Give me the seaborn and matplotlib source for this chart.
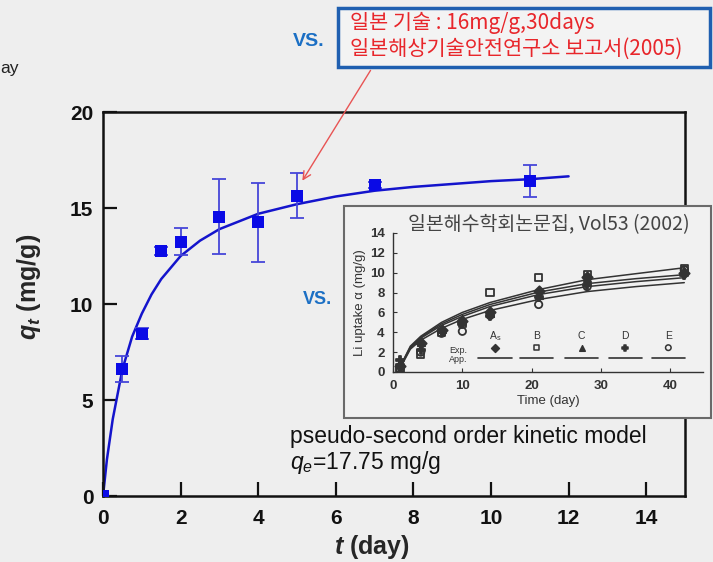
import numpy as np
import pandas as pd
import matplotlib
matplotlib.use("Agg")
import matplotlib.pyplot as plt
from matplotlib.patches import Rectangle
import seaborn as sns

# main data: q_t vs t (day)
t_day = [0, 0.5, 1, 1.5, 2, 3, 4, 5, 7, 11]
qt = [0.0, 6.6, 8.45, 12.75, 13.25, 14.55, 14.25, 15.65, 16.2, 16.4]
qt_err = [0.0, 0.67, 0.28, 0.2, 0.72, 1.95, 2.05, 1.15, 0.15, 0.85]

# pseudo-second order model curve
fit_t = [0, 0.1, 0.25, 0.5, 0.75, 1, 1.25, 1.5, 2, 2.5, 3, 4, 5, 6, 7, 8, 9, 10, 11, 12]
fit_q = [0, 1.9, 4.0, 6.6, 8.3, 9.5, 10.5, 11.3, 12.5, 13.3, 13.9, 14.7, 15.2, 15.6,
         15.9, 16.1, 16.25, 16.4, 16.5, 16.65]

# inset (scanned paper figure): Li uptake vs time
ins_t = [1, 4, 7, 10, 14, 21, 28, 42]
ins_series = {
    "A": [0.6, 2.9, 4.2, 5.1, 6.0, 8.2, 9.6, 10.0],
    "B": [0.4, 1.8, 4.0, 4.9, 8.0, 9.5, 9.8, 10.4],
    "C": [0.8, 3.0, 4.3, 5.3, 5.9, 7.8, 9.5, 10.2],
    "D": [1.2, 2.2, 4.1, 4.8, 5.6, 7.6, 8.8, 9.8],
    "E": [0.3, 2.0, 3.9, 4.1, 5.7, 6.8, 8.6, 10.3],
}
ins_curve_t = [0.8, 1.5, 2.5, 4, 7, 10, 14, 21, 28, 35, 42]
ins_curves = [
    [0, 1.2, 2.6, 3.6, 5.0, 6.0, 7.0, 8.3, 9.3, 9.9, 10.5],
    [0, 1.15, 2.5, 3.5, 4.85, 5.8, 6.8, 8.05, 8.9, 9.4, 9.8],
    [0, 1.1, 2.4, 3.4, 4.7, 5.6, 6.6, 7.8, 8.6, 9.1, 9.5],
    [0, 1.0, 2.3, 3.2, 4.4, 5.3, 6.2, 7.3, 8.1, 8.6, 9.0],
]
leg_labels = [r"A$_{\rm s}$", "B", "C", "D", "E"]
leg_markers = ["D", "s", "^", "P", "o"]

sns.set_theme(style="ticks")
plt.rcParams['font.family'] = ['Liberation Sans', 'Noto Sans CJK KR', 'DejaVu Sans']
plt.rcParams['mathtext.fontset'] = 'custom'
plt.rcParams['mathtext.rm'] = 'Liberation Sans'
plt.rcParams['mathtext.it'] = 'Liberation Sans:italic'
plt.rcParams['mathtext.bf'] = 'Liberation Sans:bold'
plt.rcParams['mathtext.bfit'] = 'Liberation Sans:italic:bold'

bg = '#eeeeee'
fig = plt.figure(figsize=(7.13, 5.62), dpi=100, facecolor=bg)
ax = fig.add_axes([0.1445, 0.1174, 0.8162, 0.6833])
ax.set_facecolor(bg)

df = pd.DataFrame({"t": t_day, "q": qt, "err": qt_err})
fit = pd.DataFrame({"t": fit_t, "q": fit_q})

sns.lineplot(data=fit, x="t", y="q", ax=ax, color='#1414cc', lw=1.8,
             sort=False, estimator=None)
ax.errorbar(df["t"], df["q"], yerr=df["err"], fmt='none', ecolor='#4646d8',
            elinewidth=1.3, capsize=5, capthick=1.3)
sns.scatterplot(data=df, x="t", y="q", ax=ax, marker='s', s=75, color='#0a0ae6',
                edgecolor='#0a0ae6', linewidth=0, zorder=5)

ax.set_xlim(0, 15)
ax.set_ylim(0, 20)
ax.set_xticks(range(0, 15, 2))
ax.set_yticks(range(0, 21, 5))
ax.tick_params(direction='in', length=10, width=1.6, labelsize=15, colors='#111111')
ax.tick_params(axis='x', pad=9)
ax.tick_params(axis='y', pad=7)
for lab in ax.get_xticklabels() + ax.get_yticklabels():
    lab.set_fontweight('bold')
for sp in ax.spines.values():
    sp.set_linewidth(1.8)
    sp.set_color('#111111')

ax.set_xlabel(r"$\mathbfit{t}$ (day)", fontsize=18, fontweight='bold')
ax.set_ylabel(r"$\mathbfit{q_t}$ (mg/g)", fontsize=18, fontweight='bold')
ax.xaxis.set_label_coords(0.462, -0.097)
ax.yaxis.set_label_coords(-0.103, 0.544)

# model text
fig.text(290 / 713, 1 - 437 / 562, "pseudo-second order kinetic model", fontsize=16.5,
         color='#111111', va='center', ha='left')
fig.text(290 / 713, 1 - 463 / 562, r"$q_e$=17.75 mg/g", fontsize=16.5,
         color='#111111', va='center', ha='left')

# inset box
fig.patches.append(Rectangle((344 / 713, 1 - 418 / 562), 367 / 713, 212 / 562,
                             transform=fig.transFigure, facecolor='#f1f1f1',
                             edgecolor='#6a6a6a', lw=1.5, zorder=1))
ins = fig.add_axes([393 / 713, 1 - 372 / 562, 310 / 713, 139 / 562], zorder=3)
ins.set_facecolor('none')
gray = '#333333'
for c in ins_curves:
    sns.lineplot(x=ins_curve_t, y=c, ax=ins, color=gray, lw=1.1, sort=False, estimator=None)
for (name, vals), mk in zip(ins_series.items(), leg_markers):
    filled = mk in ("D", "^", "P")
    ins.scatter(ins_t, vals, marker=mk, s=28, facecolors=gray if filled else 'none',
                edgecolors=gray, linewidths=1.3, zorder=4)
# inset legend
leg_x = [14.7, 20.7, 27.2, 33.5, 39.7]
for x, lab, mk in zip(leg_x, leg_labels, leg_markers):
    filled = mk in ("D", "^", "P")
    ins.text(x, 3.6, lab, fontsize=7.5, color=gray, ha='center', va='center')
    ins.scatter([x], [2.45], marker=mk, s=16, facecolors=gray if filled else 'none',
                edgecolors=gray, linewidths=1.1)
    ins.plot([x - 2.4, x + 2.4], [1.45, 1.45], color=gray, lw=1.2)
ins.text(9.4, 2.2, "Exp.", fontsize=6.5, color=gray, ha='center', va='center')
ins.text(9.4, 1.3, "App.", fontsize=6.5, color=gray, ha='center', va='center')

ins.set_xlim(0, 44.7)
ins.set_ylim(0, 14)
ins.set_xticks([0, 10, 20, 30, 40])
ins.set_yticks(range(0, 15, 2))
ins.tick_params(direction='in', length=3, width=0.8, labelsize=9.5, colors=gray, pad=6)
for lab in ins.get_xticklabels() + ins.get_yticklabels():
    lab.set_fontweight('bold')
ins.spines[['top', 'right']].set_visible(False)
for s in ('left', 'bottom'):
    ins.spines[s].set_linewidth(1.0)
    ins.spines[s].set_color(gray)
ins.set_xlabel("Time (day)", fontsize=9.5, color=gray, labelpad=2)
ins.set_ylabel("Li uptake α (mg/g)", fontsize=9.5, color=gray, labelpad=3)
fig.text(408 / 713, 1 - 225 / 562, "일본해수학회논문집, Vol53 (2002)", fontsize=14,
         color='#444444', va='center', ha='left', zorder=4,
         family=['Noto Sans CJK KR', 'DejaVu Sans'])

# reference box at top
fig.patches.append(Rectangle((338 / 713, 1 - 67 / 562), 372 / 713, 59 / 562,
                             transform=fig.transFigure, facecolor='#f3f3f3',
                             edgecolor='#1f5fb0', lw=2.5, zorder=1))
kfont = ['Noto Sans CJK KR', 'DejaVu Sans']
fig.text(350 / 713, 1 - 23 / 562, "일본 기술 : 16mg/g,30days", fontsize=15,
         color='#e8262b', va='center', ha='left', family=kfont, zorder=4)
fig.text(350 / 713, 1 - 49 / 562, "일본해상기술안전연구소 보고서(2005)", fontsize=15,
         color='#e8262b', va='center', ha='left', family=kfont, zorder=4)
ax.annotate("", xy=(5.1, 16.3), xycoords='data',
            xytext=(372 / 713, 1 - 68 / 562), textcoords='figure fraction',
            arrowprops=dict(arrowstyle='->', color='#e85454', lw=1.0,
                            mutation_scale=14), annotation_clip=False)

# vs. labels
fig.text(293 / 713, 1 - 42 / 562, "VS.", fontsize=14, color='#1b6fc4', fontweight='bold',
         va='center', ha='left')
fig.text(303 / 713, 1 - 300 / 562, "VS.", fontsize=13, color='#1b6fc4', fontweight='bold',
         va='center', ha='left')
fig.text(0.0, 1 - 68 / 562, "ay", fontsize=12.5, color='#222222', va='center', ha='left')

fig.savefig("out.png", dpi=100, facecolor=bg)
